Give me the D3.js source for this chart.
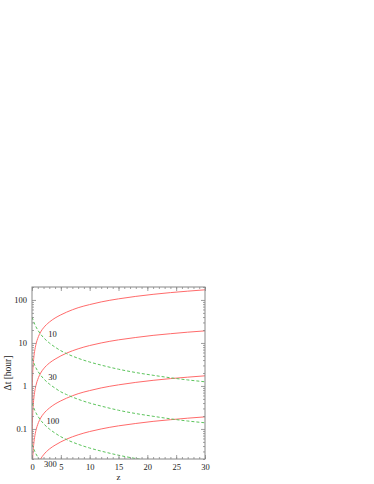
<!DOCTYPE html>
<html>
<head>
<meta charset="utf-8">
<script src="https://cdn.jsdelivr.net/npm/d3@7"></script>
<style>
  body { margin: 0; background: #fff; }
  svg text { font-family: "Liberation Serif", "Times New Roman", serif; fill: #222; }
</style>
</head>
<body>
<script>
// redshift samples
var zRed = [0.02, 0.05, 0.1, 0.2, 0.3, 0.5, 0.75, 1, 1.5, 2, 3, 4, 5, 6, 8, 10, 12, 15, 18, 21, 24, 27, 30];
// red solid curves, one per label (10, 30, 100, 300)
var red10  = [0.4, 0.9, 1.65, 3.1, 4.4, 7.0, 10, 12.8, 18, 22.5, 30.5, 38, 45, 52, 66, 78, 90, 106, 121, 135, 148, 160, 172];
var red30  = [0.044, 0.1, 0.18, 0.34, 0.49, 0.78, 1.11, 1.42, 2.0, 2.5, 3.4, 4.2, 5.0, 5.8, 7.3, 8.7, 10, 11.8, 13.4, 15, 16.4, 17.8, 19.1];
var red100 = [0.004, 0.009, 0.0165, 0.031, 0.044, 0.07, 0.1, 0.128, 0.18, 0.225, 0.305, 0.38, 0.45, 0.52, 0.66, 0.78, 0.9, 1.06, 1.21, 1.35, 1.48, 1.6, 1.72];
var red300 = [0.0004, 0.001, 0.0018, 0.0034, 0.0049, 0.0078, 0.011, 0.0142, 0.02, 0.025, 0.034, 0.042, 0.05, 0.058, 0.073, 0.087, 0.1, 0.118, 0.134, 0.15, 0.164, 0.178, 0.191];

var zGreen = [0, 0.5, 1, 1.5, 2, 3, 4, 5, 6, 8, 10, 12, 15, 18, 21, 24, 27, 30];
// green dashed curves
var green10  = [40, 26.7, 20, 16, 13.3, 10, 8, 6.6, 5.65, 4.4, 3.6, 3.05, 2.45, 2.05, 1.77, 1.55, 1.38, 1.25];
var green30  = [4.44, 2.96, 2.22, 1.78, 1.48, 1.11, 0.89, 0.73, 0.63, 0.49, 0.40, 0.34, 0.272, 0.228, 0.197, 0.172, 0.153, 0.139];
var green100 = [0.4, 0.267, 0.2, 0.16, 0.133, 0.1, 0.08, 0.066, 0.0565, 0.044, 0.036, 0.0305, 0.0245, 0.0205, 0.0177, 0.0155, 0.0138, 0.0125];
var green300 = [0.044, 0.0296, 0.0222, 0.0178, 0.0148, 0.0111, 0.0089, 0.0073, 0.0063, 0.0049, 0.004, 0.0034, 0.0027, 0.0023, 0.002, 0.0017, 0.0015, 0.0014];

var labels = ["10", "30", "100", "300"];
var labelZ = [2.8, 2.8, 2.5, 2.1];
var labelV = [16, 1.6, 0.155, 0.015];

var xTicks = [0, 5, 10, 15, 20, 25, 30];
var yTicks = [0.1, 1, 10, 100];
var yTickText = ["0.1", "1", "10", "100"];

var width = 374, height = 484;
var margin = { top: 287, right: 169, bottom: 25, left: 32 };
var w = width - margin.left - margin.right;
var h = height - margin.top - margin.bottom;

var svg = d3.select("body").append("svg")
    .attr("width", width)
    .attr("height", height);

var g = svg.append("g")
    .attr("transform", `translate(${margin.left}, ${margin.top})`);

var x = d3.scaleLinear().domain([0, 30]).range([0, w]);
var y = d3.scaleLog().domain([0.02, 200]).range([h, 0]);

g.append("clipPath").attr("id", "clip")
  .append("rect").attr("width", w).attr("height", h);

var plot = g.append("g").attr("clip-path", "url(#clip)");

var line = d3.line()
    .x(d => x(d[0]))
    .y(d => y(d[1]))
    .curve(d3.curveMonotoneX);

[red10, red30, red100, red300].forEach(function(s){
  plot.append("path")
    .datum(zRed.map((z, i) => [z, s[i]]))
    .attr("d", line)
    .attr("fill", "none")
    .attr("stroke", "#ff6b6b")
    .attr("stroke-width", 1);
});

[green10, green30, green100, green300].forEach(function(s){
  plot.append("path")
    .datum(zGreen.map((z, i) => [z, s[i]]))
    .attr("d", line)
    .attr("fill", "none")
    .attr("stroke", "#5cc45c")
    .attr("stroke-width", 1)
    .attr("stroke-dasharray", "3,2");
});

// curve labels
g.selectAll(".clabel")
  .data(labels)
  .enter().append("text")
  .attr("class", "clabel")
  .attr("x", (d, i) => x(labelZ[i]))
  .attr("y", (d, i) => y(labelV[i]))
  .attr("dy", "0.35em")
  .style("font-size", "8.5px")
  .text(d => d);

// axes, ticks inside
var minorX = d3.range(0, 31);
var minorY = [];
[0.01, 0.1, 1, 10, 100].forEach(function(b){
  for (var k = 2; k <= 9; k++) {
    var v = b * k;
    if (v >= 0.02 && v <= 200) minorY.push(v);
  }
});

function axisStyle(sel) {
  sel.select(".domain").remove();
  sel.selectAll("line").attr("stroke", "#888").attr("stroke-width", 0.8);
  sel.selectAll("text").style("font-size", "8.5px").attr("fill", "#222");
}

g.append("g").attr("transform", `translate(0, ${h})`)
  .call(d3.axisBottom(x).tickValues(minorX).tickSize(-2).tickFormat(""))
  .call(axisStyle);
g.append("g").attr("transform", `translate(0, ${h})`)
  .call(d3.axisBottom(x).tickValues(xTicks).tickSize(-4).tickPadding(5).tickFormat(d3.format("d")))
  .call(axisStyle);
g.append("g")
  .call(d3.axisTop(x).tickValues(minorX).tickSize(-2).tickFormat(""))
  .call(axisStyle);
g.append("g")
  .call(d3.axisTop(x).tickValues(xTicks).tickSize(-4).tickFormat(""))
  .call(axisStyle);

g.append("g")
  .call(d3.axisLeft(y).tickValues(minorY).tickSize(-2).tickFormat(""))
  .call(axisStyle);
g.append("g")
  .call(d3.axisLeft(y).tickValues(yTicks).tickSize(-4).tickPadding(5).tickFormat((d, i) => yTickText[i]))
  .call(axisStyle);
g.append("g").attr("transform", `translate(${w}, 0)`)
  .call(d3.axisRight(y).tickValues(minorY).tickSize(-2).tickFormat(""))
  .call(axisStyle);
g.append("g").attr("transform", `translate(${w}, 0)`)
  .call(d3.axisRight(y).tickValues(yTicks).tickSize(-4).tickFormat(""))
  .call(axisStyle);

g.append("rect")
  .attr("width", w).attr("height", h)
  .attr("fill", "none")
  .attr("stroke", "#888")
  .attr("stroke-width", 1);

// axis titles
g.append("text")
  .attr("x", w / 2).attr("y", h + 21)
  .attr("text-anchor", "middle")
  .style("font-size", "9px")
  .text("z");

g.append("text")
  .attr("transform", `translate(${-21}, ${h / 2}) rotate(-90)`)
  .attr("text-anchor", "middle")
  .style("font-size", "9.5px")
  .text("\u0394t [hour]");
</script>
</body>
</html>
